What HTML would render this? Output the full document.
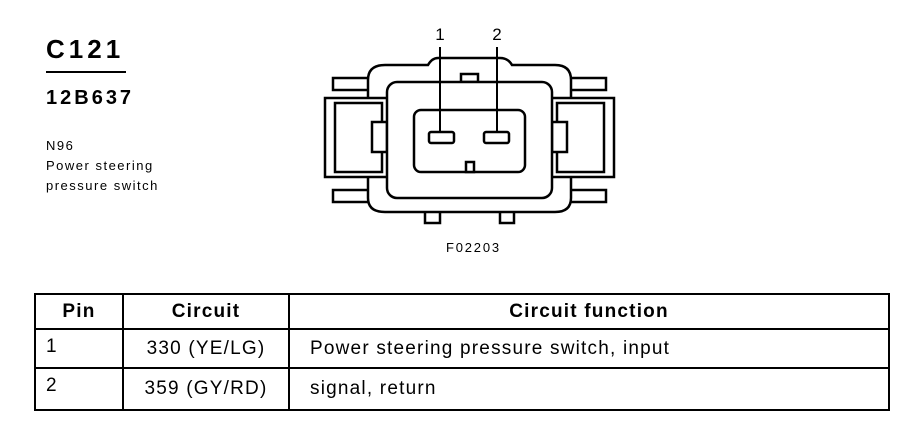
<!DOCTYPE html>
<html><head><style>
body{margin:0;background:#fff;width:908px;height:448px;overflow:hidden;position:relative;font-family:"Liberation Sans",Arial,sans-serif;color:#000}
.t{position:absolute;white-space:nowrap}
table{position:absolute;left:34px;top:293px;width:856px;border-collapse:collapse;font-size:19px;letter-spacing:1.2px}
td{border:2px solid #000;padding:0 10px}
</style></head><body>
<div class="t" style="left:46px;top:34px;font-size:26px;font-weight:bold;letter-spacing:4px">C121</div>
<div style="position:absolute;left:46px;top:71px;width:80px;height:2px;background:#000"></div>
<div class="t" style="left:46px;top:87px;font-size:20px;font-weight:bold;letter-spacing:3px">12B637</div>
<div class="t" style="left:46px;top:136px;font-size:13px;line-height:20px;letter-spacing:1.5px">N96<br>Power steering<br>pressure switch</div>
<div class="t" style="left:446px;top:240px;font-size:13px;letter-spacing:1.8px">F02203</div>
<svg style="position:absolute;left:0;top:0" width="908" height="290" fill="#fff" stroke="#000" stroke-width="2.5">
<text x="440" y="40" font-size="17" text-anchor="middle" fill="#000" stroke="none" font-family="Liberation Sans">1</text>
<text x="497" y="40" font-size="17" text-anchor="middle" fill="#000" stroke="none" font-family="Liberation Sans">2</text>
<rect x="333" y="78" width="38" height="12"/><rect x="333" y="190" width="38" height="12"/>
<rect x="568" y="78" width="38" height="12"/><rect x="568" y="190" width="38" height="12"/>
<rect x="425" y="210" width="15" height="13"/><rect x="500" y="210" width="14" height="13"/>
<path d="M385 65 Q368 65 368 80 L368 198 Q368 212 385 212 L555 212 Q571 212 571 198 L571 80 Q571 65 555 65 L512 65 Q508 58 500 58 L438 58 Q432 58 428 65 Z"/>
<rect x="325" y="98" width="63" height="79"/><rect x="335" y="103" width="47" height="69"/>
<rect x="551" y="98" width="63" height="79"/><rect x="557" y="103" width="47" height="69"/>
<rect x="372" y="122" width="15" height="30"/><rect x="552" y="122" width="15" height="30"/>
<rect x="461" y="74" width="17" height="8"/>
<rect x="387" y="82" width="165" height="116" rx="10"/>
<rect x="414" y="110" width="111" height="62" rx="7"/>
<rect x="429" y="132" width="25" height="11" rx="2"/><rect x="484" y="132" width="25" height="11" rx="2"/>
<rect x="466" y="162" width="8" height="10"/>
<line x1="440" y1="47" x2="440" y2="132" stroke-width="2"/><line x1="497" y1="47" x2="497" y2="132" stroke-width="2"/>
</svg>
<table>
<tr style="height:35px;font-weight:bold"><td style="width:66px;text-align:center">Pin</td><td style="width:144px;text-align:center">Circuit</td><td style="text-align:center">Circuit function</td></tr>
<tr style="height:39px"><td style="vertical-align:top;padding-top:6px">1</td><td style="text-align:center">330 (YE/LG)</td><td style="padding-left:20px">Power steering pressure switch, input</td></tr>
<tr style="height:42px"><td style="vertical-align:top;padding-top:6px">2</td><td style="text-align:center">359 (GY/RD)</td><td style="padding-left:20px">signal, return</td></tr>
</table>
</body></html>
